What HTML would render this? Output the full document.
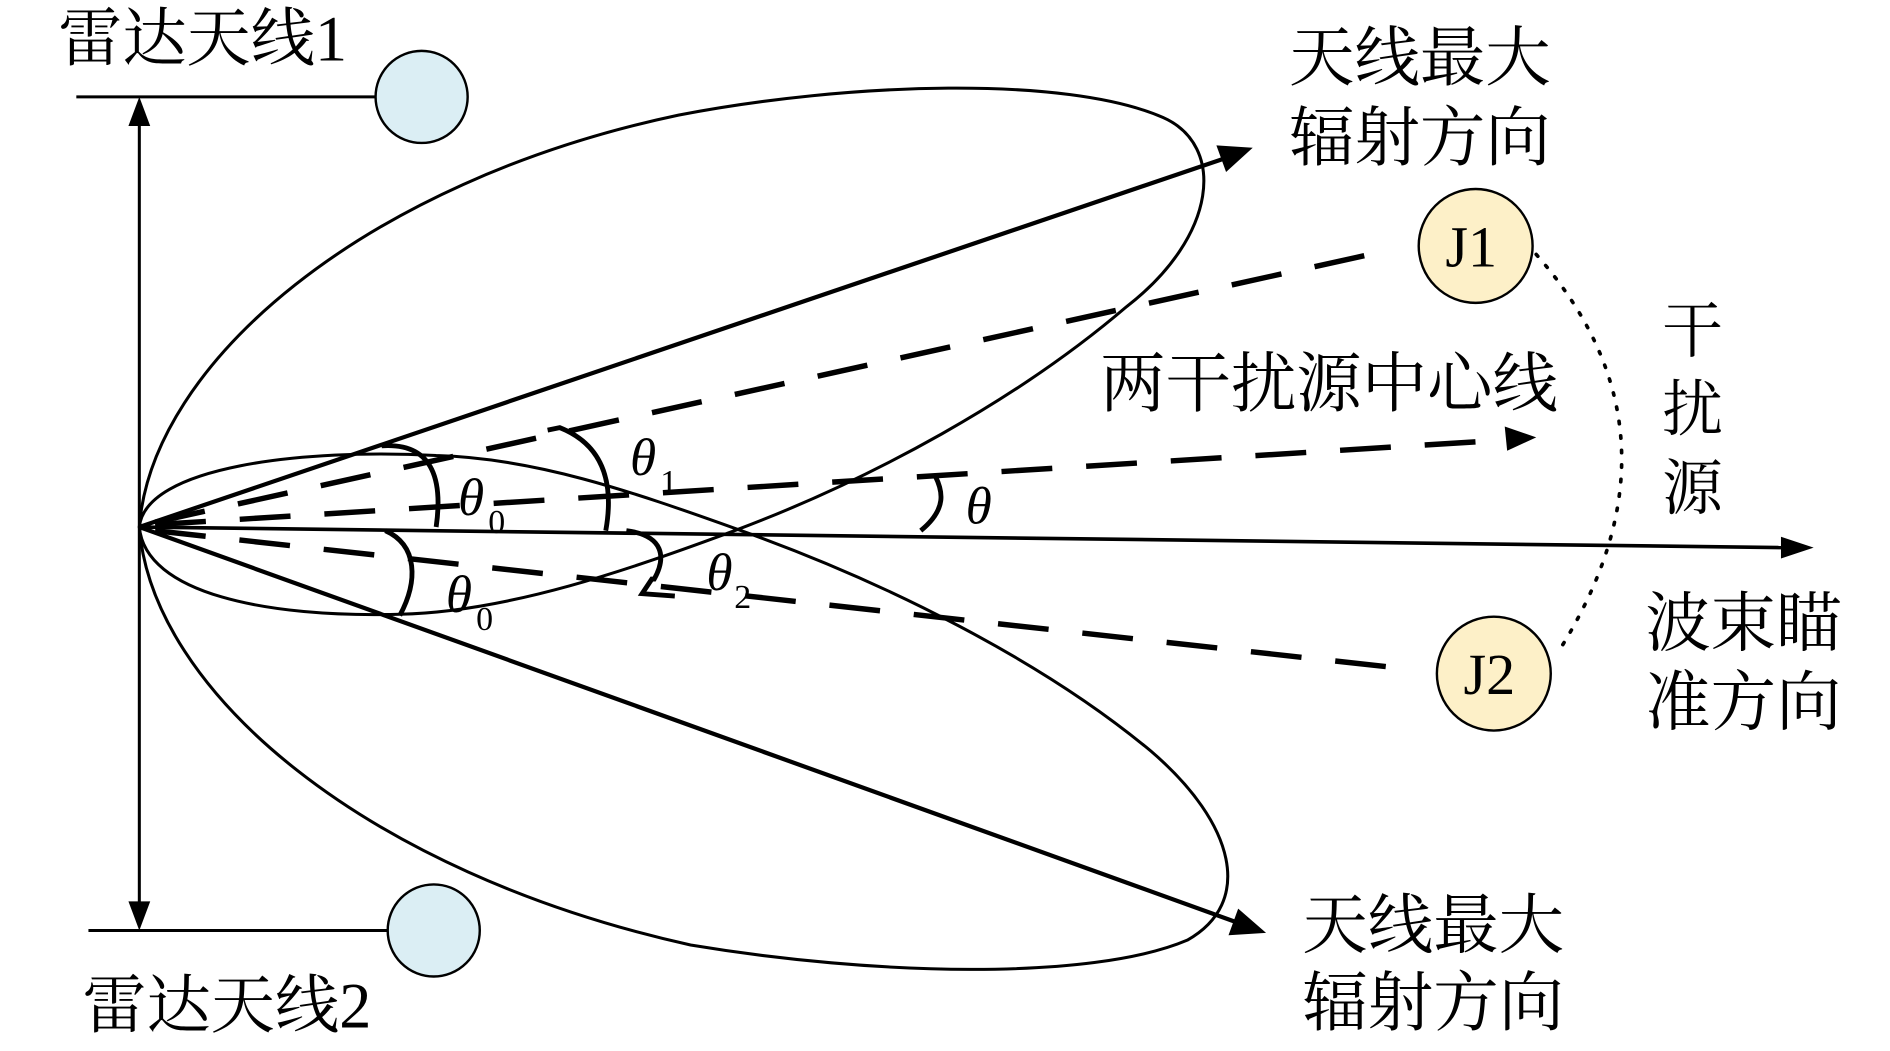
<!DOCTYPE html>
<html><head><meta charset="utf-8"><style>
html,body{margin:0;padding:0;background:#fff;width:1890px;height:1051px;overflow:hidden}
svg{display:block}
.t{font-family:"Liberation Serif","Noto Serif CJK SC","Noto Sans CJK SC",serif;fill:#000}
.g{font-family:"Liberation Serif",serif;font-style:italic;fill:#000}
.s{font-family:"Liberation Serif",serif;fill:#000}
</style></head><body>
<svg width="1890" height="1051" viewBox="0 0 1560 867.5" preserveAspectRatio="none" xmlns="http://www.w3.org/2000/svg">
<g stroke="#000" fill="none" stroke-width="2.5">
<line x1="63" y1="80" x2="310" y2="80"/>
<line x1="73" y1="768" x2="320" y2="768"/>
<line x1="115" y1="100" x2="115" y2="748"/>
<path d="M115,80 L106,104 L124,104 Z" fill="#000" stroke="none"/>
<path d="M115,768 L106,744 L124,744 Z" fill="#000" stroke="none"/>
<circle cx="348" cy="80" r="38" fill="#dbeef4" stroke-width="2"/>
<circle cx="358" cy="768" r="38" fill="#dbeef4" stroke-width="2"/>
<path d="M115,435 C125,300 300,150 560,95 C700,68 880,62 960,97 C1012,120 1005,195 930,253 C840,330 720,395 609,437 C520,470 420,505 330,507 C220,510 120,490 115,435 Z"/>
<path d="M115,435 C125,570 300,720 570,780 C720,805 900,810 980,776 C1035,745 1020,680 950,620 C860,545 730,480 609,437 C520,405 440,378 360,376 C250,370 120,385 115,435 Z"/>
<line x1="115" y1="435" x2="1010" y2="131" stroke-width="3.5"/>
<path d="M1034,122 L1004,120 L1012,142 Z" fill="#000" stroke="none"/>
<line x1="115" y1="435" x2="1020" y2="761" stroke-width="3.5"/>
<path d="M1045,770 L1014,772 L1022,750 Z" fill="#000" stroke="none"/>
<line x1="115" y1="435" x2="1470" y2="452" stroke-width="3"/>
<path d="M1497,452 L1470,443 L1470,461 Z" fill="#000" stroke="none"/>
<g stroke-width="4.5" stroke-dasharray="42,28">
<line x1="128" y1="431" x2="1140" y2="208"/>
<line x1="128" y1="433" x2="1245" y2="363"/>
<line x1="128" y1="438" x2="1160" y2="552"/>
</g>
<path d="M1268,361 L1242,352 L1244,372 Z" fill="#000" stroke="none"/>
<g stroke-width="4">
<path d="M315,368 C360,365 365,400 360,435"/>
<path d="M318,438 C345,450 345,480 330,508"/>
<path d="M452,355 L462,353 C505,370 505,410 500,438"/>
<path d="M760,438 C782,420 778,405 772,393"/>
<path d="M517,438 C548,442 550,460 540,478 L538,478 L530,490 L557,492"/>
</g>
<circle cx="1218" cy="203" r="47" fill="#fdf0c8" stroke-width="2"/>
<circle cx="1233" cy="556" r="47" fill="#fdf0c8" stroke-width="2"/>
<path d="M1268,210 Q1400,360 1285,540" stroke-width="3" stroke-dasharray="2,10" stroke-linecap="round"/>
</g>
<g class="t" font-size="53">
<text x="48" y="50">雷达天线1</text>
<text x="68" y="848">雷达天线2</text>
</g>
<g class="t" font-size="54">
<text x="1064" y="66">天线最大</text>
<text x="1064" y="132">辐射方向</text>
<text x="1075" y="782">天线最大</text>
<text x="1075" y="846">辐射方向</text>
<text x="1372" y="290" font-size="50">干</text>
<text x="1372" y="355" font-size="50">扰</text>
<text x="1372" y="420" font-size="50">源</text>
<text x="1358" y="533">波束瞄</text>
<text x="1358" y="598">准方向</text>
<text x="908" y="335">两干扰源中心线</text>
</g>
<g class="s" font-size="48">
<text x="1193" y="220">J1</text>
<text x="1208" y="573">J2</text>
</g>
<g class="g" font-size="44">
<text x="378" y="425">θ</text>
<text x="368" y="505">θ</text>
<text x="520" y="392">θ</text>
<text x="583" y="487">θ</text>
<text x="797" y="432">θ</text>
</g>
<g class="s" font-size="28">
<text x="403" y="440">0</text>
<text x="393" y="520">0</text>
<text x="545" y="407">1</text>
<text x="606" y="502">2</text>
</g>
</svg>
</body></html>
